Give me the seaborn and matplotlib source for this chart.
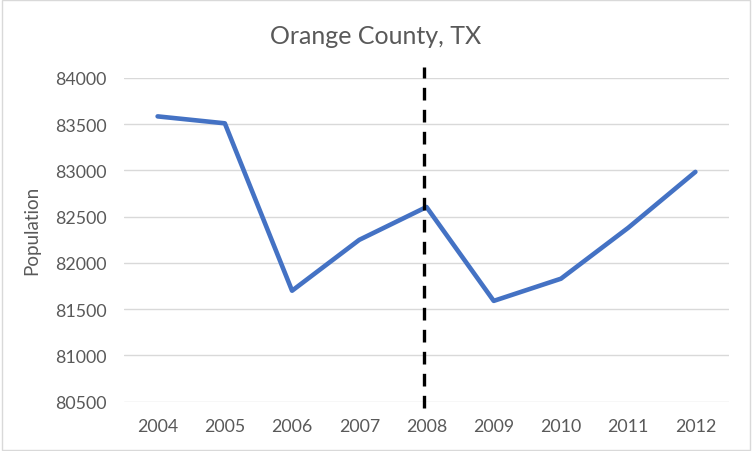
import matplotlib
matplotlib.use("Agg")
import matplotlib.pyplot as plt
import seaborn as sns
import pandas as pd
from matplotlib.patches import Rectangle

years = ["2004", "2005", "2006", "2007", "2008", "2009", "2010", "2011", "2012"]
population = [83585, 83510, 81700, 82250, 82605, 81590, 81830, 82380, 82985]
y_ticks = [80500, 81000, 81500, 82000, 82500, 83000, 83500, 84000]
marker_year = "2008"
title = "Orange County, TX"
y_label = "Population"

sns.set_theme(style="white")
plt.rcParams['font.family'] = ['Lato', 'DejaVu Sans']

df = pd.DataFrame({"Year": years, "Population": population})

fig = plt.figure(figsize=(7.52, 4.52), dpi=100)
ax = fig.add_axes([124/752, 1-402.7/452, 605/752, 323.7/452])

for t in y_ticks:
    ax.axhline(t, color="#d9d9d9", lw=1.0, zorder=0)

sns.lineplot(data=df, x="Year", y="Population", ax=ax, color="#4472C4",
             lw=3.3, sort=False, zorder=3)

xi = years.index(marker_year) - 0.03
ax.axvline(xi, ymin=-0.02, ymax=1.034, clip_on=False, color="black",
           lw=2.4, dashes=(3.8, 2.8), zorder=4)

ax.set_xlim(-0.5, len(years) - 0.5)
ax.set_ylim(y_ticks[0], y_ticks[-1])
ax.set_yticks(y_ticks)
ax.set_yticklabels([str(t) for t in y_ticks])
for s in ax.spines.values():
    s.set_visible(False)
ax.tick_params(axis="both", length=0, labelsize=12.8, labelcolor="#595959")
ax.tick_params(axis="y", pad=12.5)
ax.tick_params(axis="x", pad=12.0)
ax.set_xlabel("")
ax.set_ylabel(y_label, fontsize=13.5, color="#595959")
ax.yaxis.set_label_coords(-0.138, 0.533)

fig.text(0.5, 1 - 36.7/452, title, ha="center", va="center",
         fontsize=18, color="#595959")

fig.patches.append(Rectangle((0.002, 0.003), 0.995, 0.994, transform=fig.transFigure,
                             fill=False, edgecolor="#d9d9d9", lw=1.0))

fig.savefig("out.png", dpi=100, facecolor="white")
